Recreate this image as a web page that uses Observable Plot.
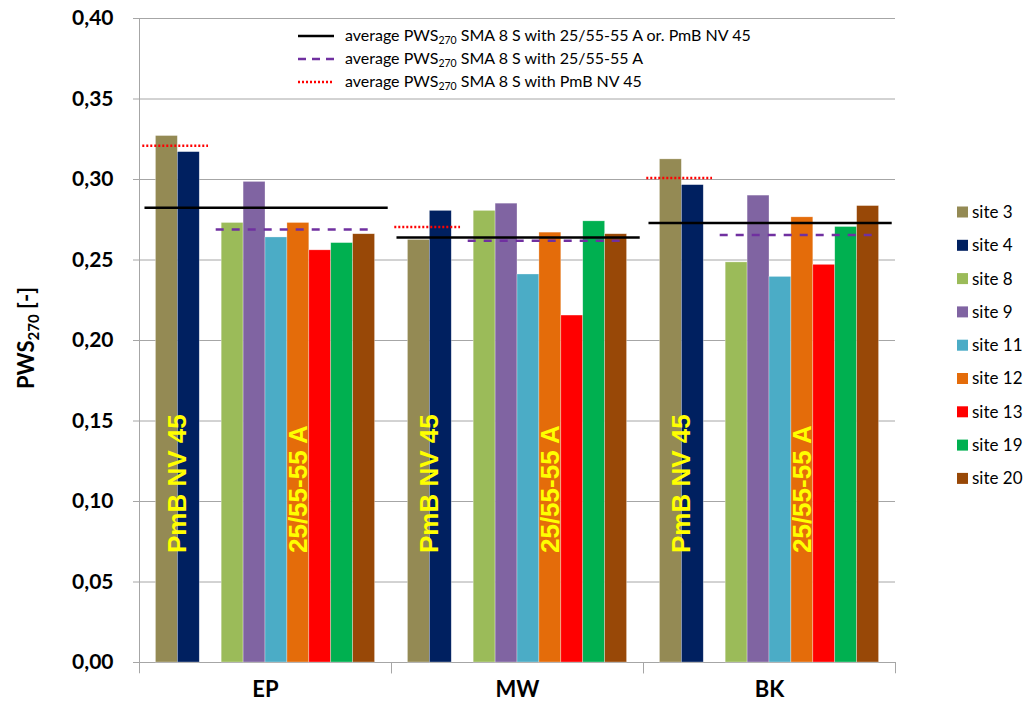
<!DOCTYPE html>
<html><head><meta charset="utf-8">
<script src="https://cdn.jsdelivr.net/npm/d3@7"></script>
<script src="https://cdn.jsdelivr.net/npm/@observablehq/plot@0.6"></script>
<style>body{margin:0;background:#fff} svg{display:block}</style>
</head><body><div id="chart"></div>
<script>
const groups = ["EP", "MW", "BK"];
const sites = ["site 3", "site 4", "site 8", "site 9", "site 11", "site 12", "site 13", "site 19", "site 20"];
const siteBinder = ["PmB NV 45", "PmB NV 45", "25/55-55 A", "25/55-55 A", "25/55-55 A", "25/55-55 A", "25/55-55 A", "25/55-55 A", "25/55-55 A"];
const siteColors = ["#948A54", "#002060", "#9BBB59", "#8064A2", "#4BACC6", "#E46C0A", "#FF0000", "#00B050", "#984807"];
const valuesEP = [0.327, 0.317, 0.273, 0.2985, 0.264, 0.273, 0.256, 0.2605, 0.266];
const valuesMW = [0.2625, 0.2805, 0.2805, 0.285, 0.241, 0.267, 0.2155, 0.274, 0.266];
const valuesBK = [0.3125, 0.2965, 0.2485, 0.290, 0.2395, 0.2765, 0.247, 0.2705, 0.2835];
const avgAll = [0.2825, 0.264, 0.273];
const avg2555 = [0.269, 0.262, 0.2655];
const avgPmB = [0.321, 0.2705, 0.301];
const yTicks = [0, 0.05, 0.10, 0.15, 0.20, 0.25, 0.30, 0.35, 0.40];
const legendLines = [
  {name: "average PWS", sub: "270", rest: " SMA 8 S with 25/55-55 A or. PmB NV 45"},
  {name: "average PWS", sub: "270", rest: " SMA 8 S with 25/55-55 A"},
  {name: "average PWS", sub: "270", rest: " SMA 8 S with PmB NV 45"}
];

// slot positions (gap between binder groups)
const slots = [];
let gaps = 0;
siteBinder.forEach((b, i) => { if (i > 0 && b !== siteBinder[i - 1]) gaps++; slots.push(i + gaps); });
const nSlots = slots[slots.length - 1] + 1;
const pad = 0.75;
const xDom = [-pad, nSlots + pad];

const valuesByGroup = {EP: valuesEP, MW: valuesMW, BK: valuesBK};
const bars = [];
groups.forEach(g => sites.forEach((s, i) => bars.push({group: g, site: s, slot: slots[i], value: valuesByGroup[g][i]})));

const binders = [...new Set(siteBinder)];
const binderSpan = binders.map(b => {
  const idx = slots.filter((_, i) => siteBinder[i] === b);
  return {binder: b, first: d3.min(idx), last: d3.max(idx) + 1};
});
const pmb = binderSpan[0], std = binderSpan[1];

const lines = [];
groups.forEach((g, j) => {
  lines.push({group: g, kind: "all", value: avgAll[j], x1: pmb.first - 0.5, x2: std.last + 0.6});
  lines.push({group: g, kind: "std", value: avg2555[j], x1: std.first - 0.25, x2: std.last - 0.05});
  lines.push({group: g, kind: "pmb", value: avgPmB[j], x1: pmb.first - 0.6, x2: pmb.last + 0.4});
});
const labels = [];
groups.forEach(g => binderSpan.forEach(b => labels.push({group: g, text: b.binder, x: (b.first + b.last) / 2})));

const gridColor = "#A6A6A6";

const plot = Plot.plot({
  width: 1030, height: 713,
  marginTop: 18, marginBottom: 51, marginLeft: 139, marginRight: 135,
  style: {fontFamily: "Lato", background: "white", color: "black"},
  fx: {domain: groups, padding: 0, label: null},
  x: {domain: xDom, axis: null},
  y: {domain: [0, 0.4]},
  color: {domain: sites, range: siteColors},
  marks: [
    Plot.gridY(yTicks, {stroke: gridColor, strokeOpacity: 1, strokeWidth: 1}),
    Plot.ruleY([0], {stroke: gridColor, strokeWidth: 1}),
    Plot.ruleX(groups, {fx: d => d, x: () => xDom[0], y1: 0, y2: -0.007, stroke: gridColor}),
    Plot.ruleX(groups, {fx: d => d, x: () => xDom[1], y1: 0, y2: -0.007, stroke: gridColor}),
    Plot.ruleX([groups[0]], {fx: d => d, x: () => xDom[0], y1: 0, y2: 0.4, stroke: gridColor}),
    Plot.axisY({ticks: yTicks, tickFormat: d => d.toFixed(2).replace(".", ","), tickSize: 6, tickPadding: 20,
      fontSize: 21, fontWeight: "bold", stroke: gridColor, fill: "black", label: null}),
    Plot.axisFx({anchor: "bottom", tickSize: 0, tickPadding: 19, fontSize: 22, fontWeight: "bold", label: null}),
    Plot.rectY(bars, {fx: "group", x1: "slot", x2: d => d.slot + 1, y1: 0, y2: "value", fill: "site",
      stroke: "white", strokeOpacity: 0.5, strokeWidth: 0.6}),
    Plot.ruleY(lines.filter(d => d.kind === "all"), {fx: "group", y: "value", x1: "x1", x2: "x2", stroke: "black", strokeWidth: 2.5}),
    Plot.ruleY(lines.filter(d => d.kind === "std"), {fx: "group", y: "value", x1: "x1", x2: "x2", stroke: "#7030A0", strokeWidth: 2.5, strokeDasharray: "8,8"}),
    Plot.ruleY(lines.filter(d => d.kind === "pmb"), {fx: "group", y: "value", x1: "x1", x2: "x2", stroke: "#FF0000", strokeWidth: 2.5, strokeDasharray: "2,2"}),
    Plot.text(labels, {fx: "group", x: "x", y: () => 0.068, text: "text", rotate: -90, textAnchor: "start",
      fill: "#FFFF00", fontSize: 26, fontWeight: "bold", fontFamily: "Liberation Sans"})
  ]
});

const svg = d3.select(plot);
// y-axis title
const yt = svg.append("text").attr("transform", "translate(34,338) rotate(-90)")
  .attr("text-anchor", "middle").attr("font-family", "Lato").attr("font-weight", "bold").attr("font-size", 22).attr("fill", "black");
yt.append("tspan").text("PWS");
yt.append("tspan").attr("font-size", 15).attr("dy", 5).text("270");
yt.append("tspan").attr("dy", -5).text(" [-]");

// top legend for average lines
const lineStyles = [
  {stroke: "black", dash: null},
  {stroke: "#7030A0", dash: "8,6"},
  {stroke: "#FF0000", dash: "2,2"}
];
const tl = svg.append("g").attr("font-family", "Lato").attr("font-size", 16).attr("text-anchor", "start");
legendLines.forEach((l, i) => {
  const y = 36 + i * 23;
  tl.append("line").attr("x1", 298).attr("x2", 334).attr("y1", y).attr("y2", y)
    .attr("stroke", lineStyles[i].stroke).attr("stroke-width", 2.5).attr("stroke-dasharray", lineStyles[i].dash);
  const t = tl.append("text").attr("x", 345).attr("y", y + 5).attr("fill", "black").attr("text-anchor", "start");
  t.append("tspan").text(l.name);
  t.append("tspan").attr("font-size", 10.5).attr("dy", 3).text(l.sub);
  t.append("tspan").attr("dy", -3).text(l.rest);
});

// right legend
const rl = svg.append("g").attr("font-family", "Lato").attr("font-size", 17).attr("text-anchor", "start");
sites.forEach((s, i) => {
  const y = 212 + i * 33.3;
  rl.append("rect").attr("x", 957).attr("y", y - 5.5).attr("width", 11).attr("height", 11).attr("fill", siteColors[i]);
  rl.append("text").attr("x", 972).attr("y", y).attr("dy", "0.35em").attr("fill", "black").attr("text-anchor", "start").text(s);
});

document.getElementById("chart").appendChild(plot);
</script>
</body></html>
